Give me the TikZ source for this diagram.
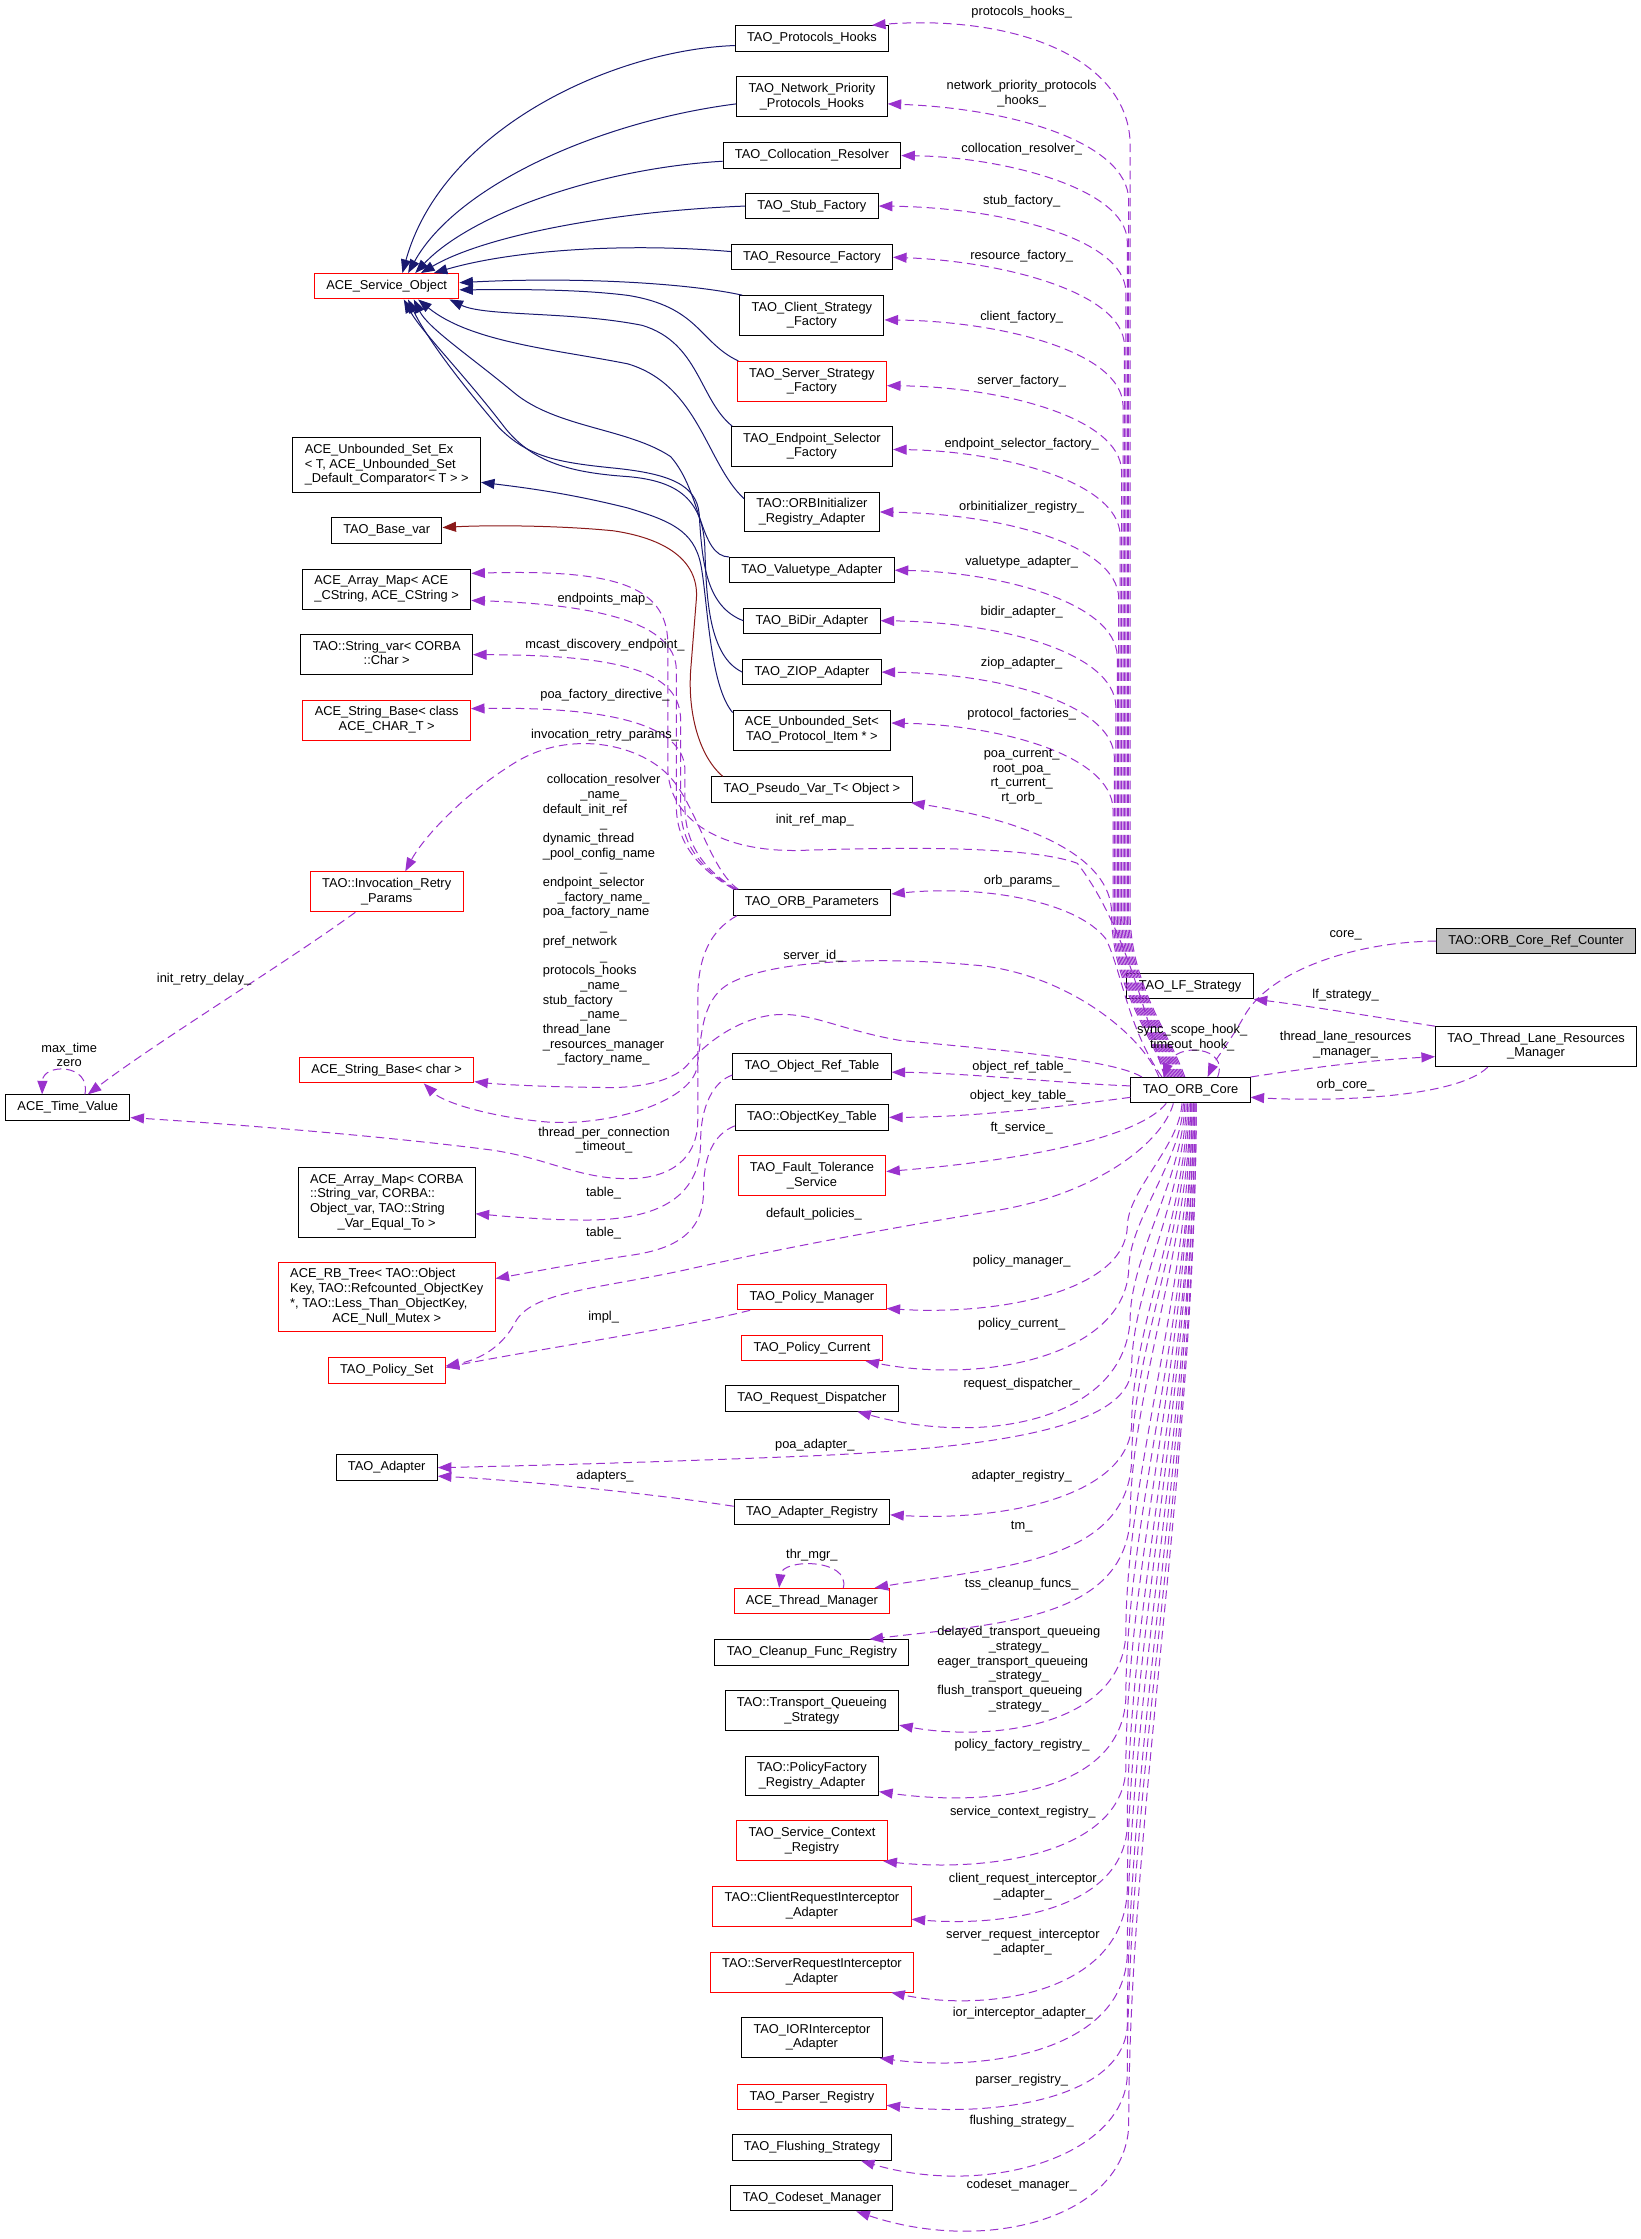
\documentclass[tikz,border=0pt]{standalone}
\usepackage{fontspec}
\setmainfont{Liberation Sans}
\usetikzlibrary{arrows.meta,calc}
\definecolor{edgepurple}{HTML}{9A32CD}
\definecolor{inhblue}{HTML}{191970}
\definecolor{privred}{HTML}{8B1A1A}
\definecolor{boxred}{HTML}{FF0000}
\definecolor{boxgrey}{HTML}{BFBFBF}
\newcommand{\mlab}[1]{\begin{tabular}{@{}l@{}}#1\end{tabular}}
\newcommand{\cl}[1]{\multicolumn{1}{@{}c@{}}{#1}}
\tikzset{
  cls/.style={draw=black,fill=white,line width=0.7pt,inner xsep=8.3pt,inner ysep=3.7pt,minimum height=17.8pt,font=\fontsize{9}{10.3}\selectfont},
  clsred/.style={cls,draw=boxred},
  clsgrey/.style={cls,fill=boxgrey},
  lbl/.style={inner sep=0pt,font=\fontsize{9}{10.3}\selectfont,align=center},
  member/.style={draw=edgepurple,line width=0.7pt,dash pattern=on 6pt off 3.5pt,-{Triangle[length=9.5pt,width=7pt]}},
  inherit/.style={draw=inhblue,line width=0.7pt,-{Triangle[length=9.5pt,width=7pt]}},
  privinh/.style={draw=privred,line width=0.7pt,-{Triangle[length=9.5pt,width=7pt]}}
}
\begin{document}
\begin{tikzpicture}[x=1pt,y=-1pt]
\fill[white] (0,0) rectangle (1150,1569.1);
\useasboundingbox (0,0) rectangle (1150,1569.1);

\node[clsred] (aso) at (271,200.6) {ACE\_Service\_Object};
\node[cls] (usetex) at (271,326) {\mlab{ACE\_Unbounded\_Set\_Ex\\< T, ACE\_Unbounded\_Set\\\_Default\_Comparator< T > >}};
\node[cls] (basevar) at (271,371.7) {TAO\_Base\_var};
\node[cls] (amapcs) at (271,412.8) {\mlab{ACE\_Array\_Map< ACE\\\_CString, ACE\_CString >}};
\node[cls] (strvar) at (271,458.8) {\mlab{TAO::String\_var< CORBA\\\cl{::Char >}}};
\node[clsred] (sbclass) at (271,504.6) {\mlab{ACE\_String\_Base< class\\\cl{ACE\_CHAR\_T >}}};
\node[clsred] (irparams) at (271,625) {\mlab{TAO::Invocation\_Retry\\\cl{\_Params}}};
\node[clsred] (sbchar) at (271,750) {ACE\_String\_Base< char >};
\node[cls] (timeval) at (47.5,776.2) {ACE\_Time\_Value};
\node[cls] (amapobj) at (271,842.6) {\mlab{ACE\_Array\_Map< CORBA\\::String\_var, CORBA::\\Object\_var, TAO::String\\\cl{\_Var\_Equal\_To >}}};
\node[clsred] (rbtree) at (271,909) {\mlab{ACE\_RB\_Tree< TAO::Object\\Key, TAO::Refcounted\_ObjectKey\\{}*, TAO::Less\_Than\_ObjectKey,\\\cl{ACE\_Null\_Mutex >}}};
\node[clsred] (polset) at (271,960.3) {TAO\_Policy\_Set};
\node[cls] (adapter) at (271,1028.5) {TAO\_Adapter};

\node[cls] (phooks) at (569,26.9) {TAO\_Protocols\_Hooks};
\node[cls] (nphooks) at (569,67.8) {\mlab{TAO\_Network\_Priority\\\cl{\_Protocols\_Hooks}}};
\node[cls] (colres) at (569,109) {TAO\_Collocation\_Resolver};
\node[cls] (stubf) at (569,144.4) {TAO\_Stub\_Factory};
\node[cls] (resf) at (569,180.3) {TAO\_Resource\_Factory};
\node[cls] (clientsf) at (569,221.2) {\mlab{TAO\_Client\_Strategy\\\cl{\_Factory}}};
\node[clsred] (serversf) at (569,267.3) {\mlab{TAO\_Server\_Strategy\\\cl{\_Factory}}};
\node[cls] (epsf) at (569,313) {\mlab{TAO\_Endpoint\_Selector\\\cl{\_Factory}}};
\node[cls] (orbinit) at (569,358.8) {\mlab{TAO::ORBInitializer\\\cl{\_Registry\_Adapter}}};
\node[cls] (vtadapter) at (569,399.6) {TAO\_Valuetype\_Adapter};
\node[cls] (bidir) at (569,435) {TAO\_BiDir\_Adapter};
\node[cls] (ziop) at (569,471) {TAO\_ZIOP\_Adapter};
\node[cls] (uset) at (569,511.7) {\mlab{ACE\_Unbounded\_Set<\\\cl{TAO\_Protocol\_Item * >}}};
\node[cls] (pseudovar) at (569,553.3) {TAO\_Pseudo\_Var\_T< Object >};
\node[cls] (orbparams) at (569,632.5) {TAO\_ORB\_Parameters};
\node[cls] (oreftable) at (569,747.4) {TAO\_Object\_Ref\_Table};
\node[cls] (okeytable) at (569,783) {TAO::ObjectKey\_Table};
\node[clsred] (ftserv) at (569,824) {\mlab{TAO\_Fault\_Tolerance\\\cl{\_Service}}};
\node[clsred] (polmgr) at (569,909) {TAO\_Policy\_Manager};
\node[clsred] (polcur) at (569,944.6) {TAO\_Policy\_Current};
\node[cls] (reqdisp) at (569,980) {TAO\_Request\_Dispatcher};
\node[cls] (adapreg) at (569,1059.6) {TAO\_Adapter\_Registry};
\node[clsred] (thrmgr) at (569,1122) {ACE\_Thread\_Manager};
\node[cls] (cleanup) at (569,1158) {TAO\_Cleanup\_Func\_Registry};
\node[cls] (tqstrat) at (569,1199) {\mlab{TAO::Transport\_Queueing\\\cl{\_Strategy}}};
\node[cls] (pfreg) at (569,1244.6) {\mlab{TAO::PolicyFactory\\\cl{\_Registry\_Adapter}}};
\node[clsred] (scr) at (569,1290) {\mlab{TAO\_Service\_Context\\\cl{\_Registry}}};
\node[clsred] (cria) at (569,1336) {\mlab{TAO::ClientRequestInterceptor\\\cl{\_Adapter}}};
\node[clsred] (sria) at (569,1382) {\mlab{TAO::ServerRequestInterceptor\\\cl{\_Adapter}}};
\node[cls] (iorad) at (569,1428) {\mlab{TAO\_IORInterceptor\\\cl{\_Adapter}}};
\node[clsred] (parser) at (569,1469.4) {TAO\_Parser\_Registry};
\node[cls] (flush) at (569,1505) {TAO\_Flushing\_Strategy};
\node[cls] (codeset) at (569,1540.5) {TAO\_Codeset\_Manager};

\node[cls] (core) at (834.3,764) {TAO\_ORB\_Core};
\node[cls] (lfstrat) at (834,691) {TAO\_LF\_Strategy};
\node[clsgrey] (refcnt) at (1076.5,659.5) {TAO::ORB\_Core\_Ref\_Counter};
\node[cls] (tlrm) at (1076.5,733.5) {\mlab{TAO\_Thread\_Lane\_Resources\\\cl{\_Manager}}};

\draw[inherit] ($(phooks.west)+(0,5)$) .. controls (430,35) and (310,90) .. ($(aso.north)+(11,0)$);
\draw[inherit] ($(nphooks.west)+(0,5)$) .. controls (420,85) and (320,130) .. ($(aso.north)+(15,0)$);
\draw[inherit] ($(colres.west)+(0,4)$) .. controls (420,118) and (330,150) .. ($(aso.north)+(20,0)$);
\draw[inherit] (stubf.west) .. controls (430,148) and (340,165) .. ($(aso.north)+(24,0)$);
\draw[inherit] ($(resf.west)+(0,-4)$) .. controls (440,170) and (360,175) .. ($(aso.north)+(33,0)$);
\draw[inherit] ($(clientsf.north west)+(2,0)$) .. controls (480,198) and (400,194) .. ($(aso.east)+(0,-2.5)$);
\draw[inherit] ($(serversf.north west)+(1,0)$) .. controls (490,240) and (490,215) .. (440,207) .. controls (400,202) and (350,203) .. ($(aso.east)+(0,2.5)$);
\draw[inherit] ($(epsf.north west)+(1,0)$) .. controls (490,280) and (490,240) .. (450,228) .. controls (400,218) and (340,222) .. ($(aso.south)+(44,0)$);
\draw[inherit] ($(orbinit.north west)+(0,5)$) .. controls (495,325) and (490,270) .. (440,255) .. controls (390,245) and (330,240) .. ($(aso.south)+(22,0)$);
\draw[inherit] (vtadapter.north west) .. controls (490,390) and (492,345) .. (470,320) .. controls (440,300) and (390,300) .. (360,275) .. controls (330,250) and (300,230) .. ($(aso.south)+(19,0)$);
\draw[inherit] (bidir.west) .. controls (495,425) and (492,395) .. (490,360) .. controls (488,340) and (470,332) .. (430,328) .. controls (390,324) and (370,320) .. (350,300) .. controls (320,265) and (298,235) .. ($(aso.south)+(15,0)$);
\draw[inherit] (ziop.west) .. controls (497,460) and (495,420) .. (494,385) .. controls (493,350) and (475,337) .. (440,334) .. controls (395,331) and (372,322) .. (354,300) .. controls (325,262) and (295,232) .. ($(aso.south)+(12,0)$);
\draw[inherit] ($(uset.north west)+(0,2)$) .. controls (497,480) and (496,420) .. (491,395) .. controls (486,372) and (470,365) .. (440,356) .. controls (400,346) and (370,342) .. ($(usetex.east)+(0,12)$);
\draw[privinh] ($(pseudovar.north west)+(8,0)$) .. controls (490,530) and (482,500) .. (484,470) -- (488,420) .. controls (490,395) and (470,378) .. (430,372) .. controls (390,368) and (340,368) .. ($(basevar.east)+(0,-2)$);

\draw[member] ($(core.north)+(-4,0)$) .. controls (820,725) and (792,690) .. (792,640) -- (792,100) .. controls (790,40) and (710,10) .. ($(phooks.north east)+(-12,0)$);
\draw[member] ($(core.north)+(-5,0)$) .. controls (819,725) and (791,690) .. (791,640) -- (791,140) .. controls (790,100) and (710,76) .. ($(nphooks.east)+(0,5)$);
\draw[member] ($(core.north)+(-6,0)$) .. controls (818,725) and (790,690) .. (790,640) -- (790,169) .. controls (789,131) and (700,110) .. (colres.east);
\draw[member] ($(core.north)+(-7,0)$) .. controls (817,725) and (789,690) .. (789,640) -- (789,204.4) .. controls (788,166.4) and (700,145.4) .. (stubf.east);
\draw[member] ($(core.north)+(-8,0)$) .. controls (816,725) and (788,690) .. (788,640) -- (788,242) .. controls (787,204) and (700,183) .. (resf.east);
\draw[member] ($(core.north)+(-9,0)$) .. controls (815,725) and (787,690) .. (787,640) -- (787,284) .. controls (786,246) and (700,225) .. ($(clientsf.east)+(0,3)$);
\draw[member] ($(core.north)+(-10,0)$) .. controls (814,725) and (786,690) .. (786,640) -- (786,330) .. controls (785,292) and (700,271) .. ($(serversf.east)+(0,3)$);
\draw[member] ($(core.north)+(-11,0)$) .. controls (813,725) and (785,690) .. (785,640) -- (785,375) .. controls (784,337) and (700,316) .. ($(epsf.east)+(0,2)$);
\draw[member] ($(core.north)+(-12,0)$) .. controls (812,725) and (784,690) .. (784,640) -- (784,419) .. controls (783,381) and (700,360) .. (orbinit.east);
\draw[member] ($(core.north)+(-13,0)$) .. controls (811,725) and (783,690) .. (783,640) -- (783,460) .. controls (782,422) and (700,401) .. (vtadapter.east);
\draw[member] ($(core.north)+(-14,0)$) .. controls (810,725) and (782,690) .. (782,640) -- (782,495) .. controls (781,457) and (700,436) .. (bidir.east);
\draw[member] ($(core.north)+(-15,0)$) .. controls (809,725) and (781,690) .. (781,640) -- (781,531) .. controls (780,493) and (700,472) .. (ziop.east);
\draw[member] ($(core.north)+(-16,0)$) .. controls (808,725) and (780,690) .. (780,640) -- (780,567) .. controls (779,529) and (700,508) .. ($(uset.east)+(0,-5)$);
\draw[member] ($(core.north)+(-17,0)$) .. controls (807,725) and (779,690) .. (779,640) .. controls (779,600) and (720,575) .. ($(pseudovar.south east)+(-1,0)$);
\draw[member] ($(core.north)+(-18,0)$) .. controls (806,725) and (790,650) .. (755,605) .. controls (720,592) and (620,594) .. (560,596) .. controls (505,597) and (470,575) .. (468,540) -- (468,450) .. controls (467,410) and (430,399) .. ($(amapcs.east)+(0,-11)$);
\draw[member] ($(core.north)+(-20,0)$) .. controls (790,720) and (786,680) .. (775,658) .. controls (755,632) and (690,620) .. ($(orbparams.east)+(0,-6)$);

\draw[member] ($(orbparams.north west)+(1,0)$) .. controls (495,612) and (474,595) .. (474,565) -- (474,470) .. controls (474,440) and (430,424) .. ($(amapcs.east)+(0,8)$);
\draw[member] ($(orbparams.north west)+(2,0)$) .. controls (496,612) and (477,595) .. (477,565) -- (477,505) .. controls (477,472) and (440,459) .. (strvar.east);
\draw[member] ($(orbparams.north west)+(3,0)$) .. controls (497,612) and (480,595) .. (480,565) -- (480,540) .. controls (480,512) and (440,495) .. ($(sbclass.east)+(0,-8)$);
\draw[member] ($(orbparams.north west)+(4,0)$) .. controls (498,610) and (488,565) .. (470,545) .. controls (450,522) and (400,510) .. (360,535) .. controls (320,560) and (295,590) .. ($(irparams.north)+(13,0)$);
\draw[member] ($(orbparams.south west)+(3,0)$) .. controls (498,652) and (489,670) .. (489,700) -- (489,785) .. controls (489,812) and (470,826) .. (440,826) .. controls (405,826) and (385,812) .. (345,806) .. controls (260,795) and (150,787) .. ($(timeval.east)+(0,7)$);
\draw[member] ($(irparams.south)+(-22,0)$) .. controls (200,675) and (110,730) .. ($(timeval.north)+(14,0)$);
\draw[member] ($(timeval.north)+(12,0)$) .. controls (64,745) and (30,745) .. ($(timeval.north)+(-18,0)$);

\draw[member] ($(core.north west)+(20,0)$) .. controls (800,725) and (750,685) .. (690,677) .. controls (620,670) and (540,672) .. (510,690) .. controls (490,702) and (492,730) .. (488,750) .. controls (480,775) and (420,790) .. (380,786) .. controls (340,782) and (310,772) .. ($(sbchar.south)+(26,0)$);
\draw[member] ($(core.north west)+(8,0)$) .. controls (780,742) and (690,735) .. (630,729) .. controls (590,722) and (570,710) .. (546,711) .. controls (520,712) and (495,730) .. (482,746) .. controls (470,760) and (440,763) .. (420,762) .. controls (390,762) and (350,760) .. ($(sbchar.east)+(0,8)$);

\draw[member] ($(core.west)+(0,-3)$) .. controls (740,759) and (680,752) .. ($(oreftable.east)+(0,4)$);
\draw[member] ($(core.west)+(0,5)$) .. controls (740,776) and (680,783) .. (okeytable.east);
\draw[member] ($(oreftable.west)+(0,6)$) .. controls (500,758) and (491,775) .. (491,800) .. controls (491,840) and (460,855) .. (410,855) .. controls (380,855) and (350,852) .. ($(amapobj.east)+(0,8)$);
\draw[member] ($(okeytable.west)+(0,6)$) .. controls (500,795) and (493,810) .. (493,835) .. controls (493,866) and (470,876) .. (440,880) .. controls (400,886) and (370,892) .. ($(rbtree.east)+(0,-13)$);
\draw[member] ($(core.south)+(-17,0)$) .. controls (800,795) and (730,812) .. ($(ftserv.east)+(0,-3)$);
\draw[member] ($(core.south)+(-12,0)$) .. controls (815,800) and (770,836) .. (700,848) .. controls (640,858) and (560,872) .. (480,890) .. controls (420,903) and (375,905) .. (362,925) .. controls (352,945) and (335,953) .. ($(polset.east)+(0,-3)$);
\draw[member] ($(polmgr.south west)+(9,0)$) .. controls (480,930) and (380,945) .. ($(polset.east)+(0,-2)$);
\draw[member] ($(core.south)+(-6,0)$) .. controls (827,803) and (790,834) .. (790,860) .. controls (788,905) and (700,922) .. ($(polmgr.east)+(0,8)$);
\draw[member] ($(core.south)+(-5,0)$) .. controls (828,814) and (791,855) .. (791,890) .. controls (788,950) and (690,970) .. ($(polcur.south east)+(-12,0)$);
\draw[member] ($(core.south)+(-4,0)$) .. controls (829,826) and (792,880) .. (792,925) .. controls (788,995) and (690,1014) .. ($(reqdisp.south east)+(-29,0)$);
\draw[member] ($(core.south)+(-3,0)$) .. controls (830,838) and (793,904) .. (793,960) .. controls (790,1000) and (700,1014) .. (575,1020) .. controls (480,1024) and (380,1027) .. (adapter.east);
\draw[member] ($(core.south)+(-2,0)$) .. controls (831,852) and (793,932) .. (793,1000) .. controls (789,1050) and (700,1066) .. ($(adapreg.east)+(0,2)$);
\draw[member] ($(adapreg.west)+(0,-4)$) .. controls (460,1047) and (360,1037) .. ($(adapter.east)+(0,6)$);
\draw[member] ($(core.south)+(-1,0)$) .. controls (832,861) and (793,950) .. (793,1025) .. controls (789,1095) and (700,1098) .. ($(thrmgr.north east)+(-11,0)$);
\draw[member] ($(thrmgr.north)+(22,0)$) .. controls (596,1092) and (548,1092) .. ($(thrmgr.north)+(-23,0)$);
\draw[member] (core.south) .. controls (833,875) and (792,977) .. (792,1065) .. controls (787,1135) and (700,1138) .. ($(cleanup.north east)+(-28,0)$);
\draw[member] (core.south) .. controls (834,903) and (789,1033) .. (789,1145) .. controls (786,1212) and (690,1220) .. ($(tqstrat.east)+(0,10)$);
\draw[member] ($(core.south)+(1,0)$) .. controls (835,919) and (789,1065) .. (789,1190) .. controls (786,1258) and (690,1266) .. ($(pfreg.east)+(0,11)$);
\draw[member] ($(core.south)+(1,0)$) .. controls (835,936) and (789,1100) .. (789,1240) .. controls (786,1300) and (690,1312) .. ($(scr.south east)+(-3,0)$);
\draw[member] ($(core.south)+(2,0)$) .. controls (836,950) and (790,1128) .. (790,1280) .. controls (787,1340) and (700,1350) .. ($(cria.east)+(0,9)$);
\draw[member] ($(core.south)+(2,0)$) .. controls (836,966) and (790,1159) .. (790,1325) .. controls (787,1398) and (690,1410) .. ($(sria.south east)+(-16,0)$);
\draw[member] ($(core.south)+(3,0)$) .. controls (837,982) and (790,1191) .. (790,1370) .. controls (787,1438) and (690,1452) .. ($(iorad.south east)+(-2,0)$);
\draw[member] ($(core.south)+(3,0)$) .. controls (837,999) and (790,1226) .. (790,1420) .. controls (787,1470) and (700,1484) .. ($(parser.east)+(0,6)$);
\draw[member] ($(core.south)+(4,0)$) .. controls (838,1012) and (790,1250) .. (790,1455) .. controls (787,1512) and (690,1540) .. ($(flush.south east)+(-22,0)$);
\draw[member] ($(core.south)+(4,0)$) .. controls (838,1024) and (791,1275) .. (791,1490) .. controls (788,1555) and (690,1580) .. ($(codeset.south east)+(-26,0)$);

\draw[member] ($(core.north)+(19,0)$) .. controls (862,733) and (824,730) .. ($(core.north)+(-19,0)$);
\draw[member] (refcnt.west) .. controls (950,660) and (890,680) .. (872,712) .. controls (862,730) and (852,742) .. ($(core.north)+(12,0)$);
\draw[member] (tlrm.north west) .. controls (960,712) and (910,704) .. (lfstrat.south east);
\draw[member] (core.north east) .. controls (920,748) and (960,743) .. ($(tlrm.west)+(0,7)$);
\draw[member] ($(tlrm.south west)+(37,0)$) .. controls (1020,770) and (930,772) .. ($(core.east)+(0,5)$);

\node[lbl] (lphooks) at (716,8.3) {protocols\_hooks\_};
\node[lbl] (lnphooks) at (716,65.8) {network\_priority\_protocols\\\_hooks\_};
\node[lbl] (lcolres) at (716,104.4) {collocation\_resolver\_};
\node[lbl] (lstubf) at (716,140.7) {stub\_factory\_};
\node[lbl] (lresf) at (716,179.4) {resource\_factory\_};
\node[lbl] (lclientsf) at (716,222) {client\_factory\_};
\node[lbl] (lserversf) at (716,266.8) {server\_factory\_};
\node[lbl] (lepsf) at (716,311.6) {endpoint\_selector\_factory\_};
\node[lbl] (lorbinit) at (716,355.2) {orbinitializer\_registry\_};
\node[lbl] (lvtadapter) at (716,393.7) {valuetype\_adapter\_};
\node[lbl] (lbidir) at (716,428.7) {bidir\_adapter\_};
\node[lbl] (lziop) at (716,464.5) {ziop\_adapter\_};
\node[lbl] (luset) at (716,500.8) {protocol\_factories\_};
\node[lbl] (lpseudo) at (716,544.2) {poa\_current\_\\root\_poa\_\\rt\_current\_\\rt\_orb\_};
\node[lbl] (linitref) at (571,575) {init\_ref\_map\_};
\node[lbl] (lorbparams) at (716,617.2) {orb\_params\_};
\node[lbl] (lendpoints) at (424,420) {endpoints\_map\_};
\node[lbl] (lmcast) at (424,452) {mcast\_discovery\_endpoint\_};
\node[lbl] (lpoafd) at (424,487.5) {poa\_factory\_directive\_};
\node[lbl] (lirp) at (424,515) {invocation\_retry\_params\_};
\node[lbl] (lstrings) at (423,645) {\mlab{\cl{collocation\_resolver}\\\cl{\_name\_}\\default\_init\_ref\\\cl{\_}\\dynamic\_thread\\\_pool\_config\_name\\\cl{\_}\\endpoint\_selector\\\cl{\_factory\_name\_}\\poa\_factory\_name\\\cl{\_}\\pref\_network\\\cl{\_}\\protocols\_hooks\\\cl{\_name\_}\\stub\_factory\\\cl{\_name\_}\\thread\_lane\\\_resources\_manager\\\cl{\_factory\_name\_}}};
\node[lbl] (ltimeself) at (48.5,739.3) {max\_time\\zero};
\node[lbl] (lretry) at (143,686.5) {init\_retry\_delay\_};
\node[lbl] (lserverid) at (570,670) {server\_id\_};
\node[lbl] (lcore) at (943,655.7) {core\_};
\node[lbl] (llf) at (943,697.3) {lf\_strategy\_};
\node[lbl] (ltlrm) at (943,731.9) {thread\_lane\_resources\\\_manager\_};
\node[lbl] (lorbcore) at (943,760.3) {orb\_core\_};
\node[lbl] (lcoreself) at (835.5,727.3) {sync\_scope\_hook\_\\timeout\_hook\_};
\node[lbl] (loref) at (716,748.2) {object\_ref\_table\_};
\node[lbl] (lokey) at (716,768.5) {object\_key\_table\_};
\node[lbl] (lftserv) at (716,790.3) {ft\_service\_};
\node[lbl] (ltpc) at (423.3,799) {thread\_per\_connection\\\_timeout\_};
\node[lbl] (ltable1) at (423,836) {table\_};
\node[lbl] (ldefpol) at (570.4,851) {default\_policies\_};
\node[lbl] (ltable2) at (423,864) {table\_};
\node[lbl] (lpolmgr) at (716,883.5) {policy\_manager\_};
\node[lbl] (limpl) at (423,922.8) {impl\_};
\node[lbl] (lpolcur) at (716,927.9) {policy\_current\_};
\node[lbl] (lreqdisp) at (716,969.8) {request\_dispatcher\_};
\node[lbl] (lpoaad) at (571,1013) {poa\_adapter\_};
\node[lbl] (ladapreg) at (716,1034.2) {adapter\_registry\_};
\node[lbl] (ladapters) at (424,1034.2) {adapters\_};
\node[lbl] (lthrself) at (569,1090) {thr\_mgr\_};
\node[lbl] (ltm) at (716,1070) {tm\_};
\node[lbl] (ltss) at (716,1110) {tss\_cleanup\_funcs\_};
\node[lbl] (ltq) at (714,1170) {\mlab{delayed\_transport\_queueing\\\cl{\_strategy\_}\\eager\_transport\_queueing\\\cl{\_strategy\_}\\flush\_transport\_queueing\\\cl{\_strategy\_}}};
\node[lbl] (lpfreg) at (716.3,1223) {policy\_factory\_registry\_};
\node[lbl] (lscr) at (716.8,1270) {service\_context\_registry\_};
\node[lbl] (lcria) at (716.8,1322) {client\_request\_interceptor\\\_adapter\_};
\node[lbl] (lsria) at (716.8,1361) {server\_request\_interceptor\\\_adapter\_};
\node[lbl] (lior) at (716.8,1410.7) {ior\_interceptor\_adapter\_};
\node[lbl] (lparser) at (716,1457.7) {parser\_registry\_};
\node[lbl] (lflush) at (716,1486.7) {flushing\_strategy\_};
\node[lbl] (lcodeset) at (716,1531.4) {codeset\_manager\_};
\end{tikzpicture}
\end{document}
